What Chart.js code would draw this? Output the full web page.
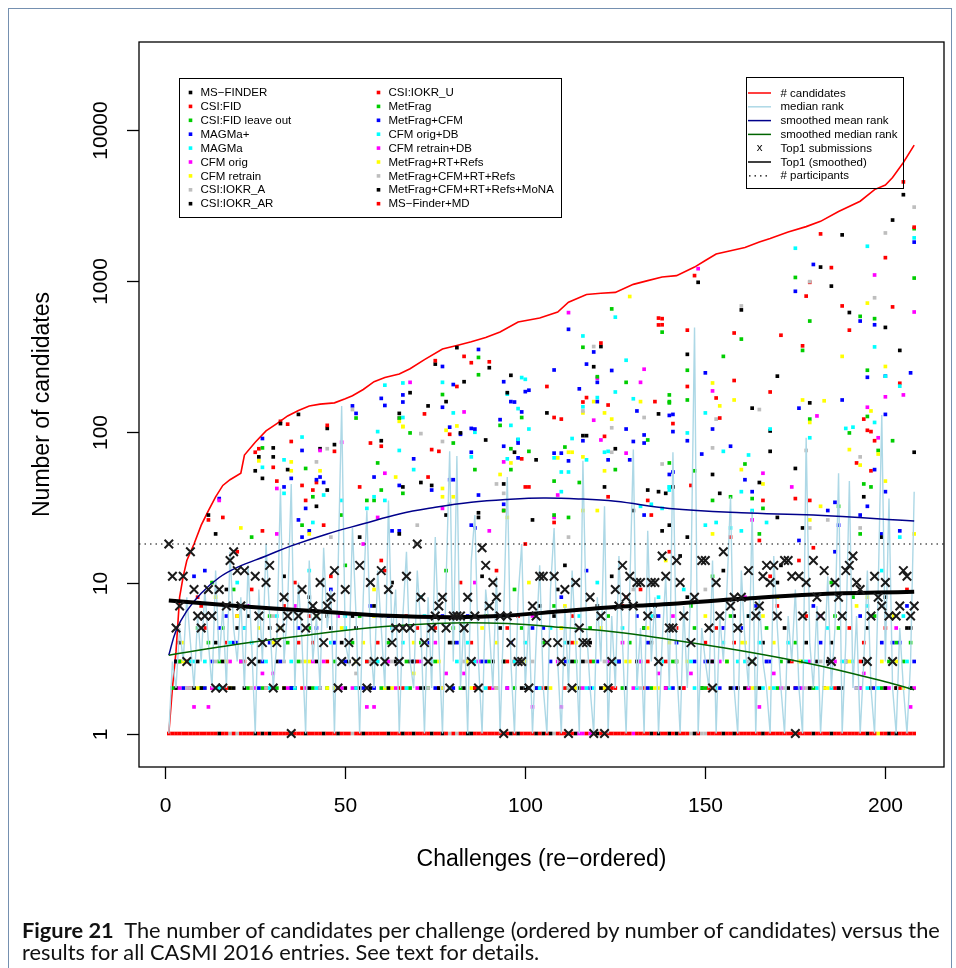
<!DOCTYPE html>
<html>
<head>
<meta charset="utf-8">
<script src="https://cdn.jsdelivr.net/npm/chart.js@4.4.1/dist/chart.umd.min.js"></script>
<style>
  body { margin: 0; background: #fff; }
  #wrap { position: relative; width: 956px; height: 968px; overflow: hidden; }
  #frame { position: absolute; left: 8px; top: 8px; width: 942px; height: 1000px; border: 1.5px solid #7590b0; }
  canvas { position: absolute; left: 0; top: 0; }
  .cap { position: absolute; left: 22px; font-family: Lato, "Open Sans", sans-serif;
         font-size: 20.5px; white-space: nowrap; transform-origin: 0 0; color: #111; }
</style>
</head>
<body>
<div id="wrap">
  <div id="frame"></div>
  <canvas id="chart" width="956" height="968"></canvas>
  <div class="cap" id="cap1" style="top:918px"><b>Figure 21</b>&nbsp; The number of candidates per challenge (ordered by number of candidates) versus the</div>
  <div class="cap" id="cap2" style="top:940px">results for all CASMI 2016 entries. See text for details.</div>
</div>
<script>
// axis ranges and ticks
const xMin = -7.28, xMax = 216.28;
const yMin = 0.624, yMax = 38100;
const xTicks = [0, 50, 100, 150, 200];
const yTicks = [1, 10, 100, 1000, 10000];
const participants = 18;

// number of candidates per challenge (red line), read at selected challenges
const candX = [1,2,3,4,5,6,8,10,12,14,16,18,21,22,25,28,31,34,37,40,43,47,50,52,55,58,61,65,68,72,77,81,85,89,93,98,104,109,112,117,121,125,130,134,138,142,147,150,153,157,161,165,168,173,178,182,187,193,197,200,202,205,208];
const candY = [1,2,3.5,8,11,14,18,24,30,37,44,48,53,70,85,101,113,127,138,148,152,155,165,173,190,214,228,241,261,300,352,372,394,420,457,532,565,620,719,810,825,836,945,1000,1058,1080,1230,1360,1500,1580,1660,1800,1900,2100,2280,2470,2870,3360,4010,4300,4820,6060,7900];

// median rank per challenge (light blue)
const medianRank = [1,3,2,5,3,8,4,2,6,3, 9,4,2,12,3,7,2,16,5,3, 8,2,13,4,1,9,3,18,6,2,
  4,42,3,7,45,2,10,4,1,14, 3,6,2,17,5,9,1,12,148,4, 3,23,6,1,8,30,4,2,12,5,
  2,35,4,9,1,6,16,3,2,12, 5,1,8,2,20,4,1,10,74,3, 69,2,6,1,14,28,3,1,9,5,
  2,11,1,6,50,3,1,8,18,2, 6,1,4,13,2,1,9,23,3,1, 7,2,12,4,1,64,5,2,1,8,
  3,32,1,6,2,15,4,1,9,76, 2,5,1,22,3,8,1,4,11,2, 73,3,1,7,2,10,490,1,5,3,
  2,14,1,6,3,9,37,2,1,12, 4,2,30,1,8,3,2,1,15,5, 2,1,6,3,9,2,1,91,4,2,
  7,1,3,11,2,5,53,1,4,47, 2,6,1,3,12,2,1,9,129,3, 36,2,1,5,2,1,3,40];

// smoothed curves, read at selected challenges
const meanX = [1,3,6,10,15,20,28,35,45,55,65,75,85,95,105,115,125,140,160,180,208];
const meanY = [3.3,4.8,6.5,8.5,10.8,12.6,15,17.5,21,24.5,28.5,31.5,34,35.5,36.3,35.8,34.5,31,29,28,25.6];
const medX = [1,20,40,60,80,95,110,125,140,155,170,185,200,208];
const medY = [3.3,3.9,4.5,5.1,5.4,5.35,5.05,4.7,4.2,3.7,3.2,2.7,2.2,1.95];
const top1SmX = [1,20,40,60,80,95,110,125,140,160,180,208];
const top1SmY = [7.6,7.0,6.5,6.05,5.9,6.05,6.45,6.9,7.2,7.8,8.35,8.7];

// Top1 submissions per challenge [challenge, count]
const top1Hits = [[1,18],[2,11],[3,5],[4,7],[5,11],[6,3],[7,16],[8,9],[9,6],[10,5],[11,6],[12,9],[13,6],[14,2],[15,9],[16,2],[17,7],[18,14],[19,16],[20,12],
  [21,7],[22,12],[24,3],[25,11],[26,6],[27,4],[28,10],[29,13],[30,2],[31,4],[32,5],[33,8],[34,6],[35,1],[37,6],[38,9],[39,5],[41,7],[42,6],[43,10],
  [44,4],[45,7],[46,8],[47,12],[48,2],[49,3],[50,9],[51,4],[53,3],[54,13],[56,2],[57,10],[58,3],[60,12],[61,3],[62,9],[63,4],[64,5],[65,3],[66,5],
  [67,11],[68,5],[70,18],[71,8],[72,4],[73,3],[74,5],[75,6],[76,7],[77,8],[78,5],[79,2],[80,6],[81,6],[82,6],[83,5],[84,8],[85,3],[86,6],[87,2],
  [88,17],[89,13],[90,7],[91,10],[92,8],[93,6],[94,1],[95,6],[96,4],[98,3],[99,3],[101,2],[102,7],[103,6],[104,11],[105,11],[106,4],[108,11],[109,4],[110,3],
  [111,9],[112,1],[113,2],[114,10],[115,5],[116,4],[117,4],[118,8],[119,1],[121,6],[122,1],[123,2],[124,3],[125,9],[126,7],[127,13],[128,8],[129,11],[130,7],[131,10],
  [132,10],[134,6],[135,10],[136,10],[137,3],[138,15],[139,11],[140,5],[141,5],[142,14],[143,10],[144,6],[146,4],[147,8],[149,14],[150,14],[151,5],[152,2],[153,10],[154,6],
  [155,16],[157,7],[158,8],[159,5],[160,8],[162,12],[163,3],[164,6],[165,7],[166,11],[167,13],[168,10],[169,13],[170,6],[172,14],[173,14],[174,11],[175,1],[176,11],[177,6],
  [178,10],[180,14],[181,8],[182,6],[183,12],[185,3],[186,10],[187,8],[188,6],[189,12],[190,13],[191,15],[192,10],[193,9],[195,3],[196,6],[197,11],[198,8],[199,7],[200,10],
  [201,6],[202,3],[203,6],[204,7],[205,12],[206,11],[207,6],[208,7]];

// rank of the correct candidate per entry [challenge, rank]
const msFinder = [[12,28],[26,68],[30,78],[37,130],[43,77],[60,87],[75,280],[81,360],[90,265],[96,236],[119,269],[121,366],[137,131],[148,975],[160,640],[170,233],[182,1230],[188,2010],[202,2520],[205,3710],[208,73],
  [3,2],[9,3],[14,4],[19,2],[23,6],[31,3],[36,2],[46,5],[51,3],[57,2],[68,3],[72,2],[84,3],[93,5],[99,2],[109,9],[115,2],[126,3],[136,6],[149,2],[161,2],[172,5],[184,3],[196,2],[206,5],[40,8],[63,10],[88,11],[143,15],[171,13],[155,12],[120,7],
  [27,4],[53,5],[80,4],[104,7],[133,5],[158,6],[178,4],[200,8],[45,6],[118,4]];
const csiFid = [[12,26],[16,27],[26,77],[30,58],[32,117],[35,86],[39,35],[42,46],[47,74],[57,84],[60,80],[75,295],[83,315],[72,131],[79,96],[100,43],[106,199],[117,168],[121,386],[137,565],[110,121],[123,37],[182,2040],[200,1420],[179,975],[188,680],[171,435],[145,470],[153,167],[194,121],[204,209],[165,19],
  [4,3],[7,2],[11,5],[17,2],[22,3],[28,2],[33,7],[38,2],[45,3],[53,2],[59,4],[65,2],[70,3],[76,2],[82,10],[90,2],[97,3],[103,2],[111,2],[118,3],[124,2],[133,2],[139,3],[151,2],[158,4],[164,2],[175,2],[186,2],[193,3],[203,2],[24,9],[61,12],[128,8],[176,14],
  [10,7],[41,4],[67,6],[95,5],[113,6],[142,5],[170,7],[190,5],[206,9],[85,4]];
const csiFidLeaveOut = [[27,78],[39,57],[41,37],[53,123],[59,62],[66,39],[58,35],[87,310],[80,84],[68,98],[99,124],[96,77],[124,650],[116,362],[138,456],[128,212],[111,79],[134,88],[140,158],[108,47],[208,2210],[175,1050],[179,540],[160,410],[145,255],[140,175],[147,55],[157,37],[190,98],[195,255],[198,75],[179,121],
  [4,3],[10,2],[16,5],[21,3],[27,2],[34,4],[41,2],[47,3],[54,6],[60,2],[67,3],[73,2],[80,5],[87,2],[94,3],[101,2],[108,7],[114,3],[122,2],[129,4],[135,2],[142,3],[150,2],[157,6],[163,3],[170,2],[177,3],[183,2],[191,8],[199,2],[205,3],[13,10],[50,13],[97,9],[152,11],
  [29,6],[62,4],[89,6],[118,5],[146,7],[167,5],[186,6],[203,4],[40,5]];
const magmaPlus = [[15,36],[11,12],[27,90],[33,43],[35,49],[38,75],[39,31],[42,48],[44,46],[52,148],[61,149],[60,166],[66,175],[65,44],[58,50],[63,22],[87,350],[77,270],[77,145],[80,205],[69,66],[74,41],[79,107],[82,96],[85,105],[85,73],[94,214],[96,158],[101,188],[93,120],
  [5,2],[13,3],[20,4],[26,2],[32,3],[37,5],[43,2],[49,3],[55,2],[62,6],[69,3],[75,2],[81,4],[89,3],[95,2],[102,5],[107,3],[113,2],[120,3],[128,2],[134,4],[141,2],[147,3],[154,2],[160,5],[168,3],[176,2],[182,4],[189,3],[197,2],[204,4],[8,11],[46,9],[117,12],[186,16],
  [17,6],[57,7],[84,6],[110,8],[137,6],[164,7],[193,6],[206,7],[29,4]];
const magma = [[33,65],[38,92],[27,58],[41,25],[44,38],[49,35],[59,100],[61,203],[66,210],[65,75],[77,212],[80,133],[66,124],[69,56],[86,99],[95,177],[99,228],[100,222],[98,142],[101,104],[116,430],[125,573],[128,297],[120,168],[130,165],[113,90],[140,43],
  [11,3],[8,3],[15,2],[24,4],[29,2],[35,3],[42,2],[50,5],[56,3],[61,2],[66,4],[74,3],[79,2],[86,3],[92,2],[100,4],[106,2],[112,3],[119,2],[127,5],[132,3],[140,2],[146,3],[153,2],[159,3],[166,2],[173,4],[181,2],[188,3],[195,2],[202,3],[207,2],[20,10],[71,8],[144,9],[199,12],
  [31,6],[63,5],[90,7],[115,6],[137,8],[162,6],[184,5],[205,6],[47,4]];
const cfmOrig = [[15,35],[31,42],[43,75],[49,85],[59,27],[65,123],[61,53],[68,212],[83,135],[77,31],[112,614],[133,259],[132,212],[120,226],[119,119],[121,88],[128,72],[94,63],[108,27],[197,1090],[208,620],[148,1200],[152,186],[195,145],[198,91],[200,170],[205,175],[181,127],[166,53],[174,43],
  [6,2],[12,1.5],[18,3],[25,2],[30,2.5],[39,2],[44,3],[52,2],[58,1.5],[64,2],[71,3],[77,2],[83,2.5],[91,2],[98,3],[104,2],[110,1.5],[116,2],[123,3],[130,2],[137,2.5],[144,2],[152,3],[159,2],[165,1.5],[171,2],[179,3],[187,2],[194,2.5],[200,2],[207,1.5],[36,7],[86,10],[161,8],
  [22,5],[48,6],[75,4],[102,6],[127,4],[155,5],[182,6],[203,5]];
const cfmRetrain = [[21,23],[26,64],[35,63],[35,55],[43,55],[65,117],[66,108],[64,50],[81,109],[78,102],[77,42],[80,37],[96,62],[93,52],[129,785],[119,158],[116,133],[122,133],[124,121],[132,158],[112,73],[109,67],[195,710],[188,315],[152,210],[154,148],[158,162],[177,162],[183,160],[190,76],[196,137],[200,270],[208,21],
  [5,3],[11,2],[18,2],[26,5],[33,2],[40,3],[47,2],[55,4],[63,2],[69,2.5],[76,3],[85,2],[92,4],[99,3],[107,2],[114,2],[121,5],[128,3],[136,2],[143,2],[150,6],[156,3],[163,2],[169,4],[176,3],[184,2],[192,7],[199,3],[205,2],[14,8],[101,10],[139,14],
  [30,4],[58,6],[88,5],[111,7],[134,5],[160,4],[187,5],[202,6]];
const csiIokrA = [[45,77],[42,63],[52,140],[71,97],[77,86],[79,33],[92,45],[94,39],[119,366],[133,124],[124,106],[116,137],[124,73],[138,61],[208,3070],[200,2070],[179,985],[197,770],[160,680],[165,140],[153,121],[152,78],[178,75],[193,68],[193,23],[184,26],
  [7,2],[17,3],[28,2],[38,3],[48,2],[57,3],[67,2],[88,3],[97,2],[117,3],[127,2],[138,3],[157,2],[167,3],[178,2],[189,3],[198,2],[18,1],[20,1],[52,1],[79,1],[81,1],[108,1],[146,1],[149,1],[150,1],[60,6],[130,9]];
const csiIokrAR = [[14,21],[25,55],[27,49],[30,68],[34,56],[42,32],[45,105],[47,82],[45,41],[65,132],[73,148],[68,181],[74,44],[71,46],[89,88],[87,29],[95,181],[97,73],[103,65],[94,45],[116,94],[117,94],[125,77],[122,43],[134,41],[106,133],[185,920],[190,615],[200,490],[204,345],[145,325],[163,143],[168,101],[175,57],[179,155],
  [4,4],[10,2],[16,3],[22,2],[29,5],[35,2],[42,3],[50,2],[58,7],[64,3],[71,2],[79,4],[86,2],[94,3],[101,2],[108,6],[116,3],[123,2],[131,3],[139,2],[145,8],[152,3],[159,2],[166,4],[173,2],[181,3],[188,2],[195,5],[203,2],[33,11],[111,13],[170,10],
  [20,5],[52,6],[83,5],[112,4],[136,7],[162,6],[185,4],[207,5]];
const csiIokrARRank1 = [15,25,27,29,35,39,44,48,55,62,66,69,74,77,84,85,96,98,103,105,107,112,114,120,135,137,140,142,147,155,158,166,180,185,195,201,203];
const csiIokrU = [[25,73],[27,22],[31,47],[34,112],[38,44],[41,41],[45,110],[54,43],[44,24],[85,286],[90,290],[81,199],[74,76],[76,74],[73,50],[101,43],[94,30],[116,157],[123,150],[137,509],[108,124],[122,93],[99,66],[134,35],[135,28],[108,25],[136,158],[205,4510],[208,2260],[185,1220],[178,790],[202,670],[190,470],[177,370],[158,450],[147,1080],[138,560],[138,510],[145,199],[158,218],[168,183],[141,113],[154,123],[192,62],[195,102],[196,100],[197,87],[196,55],[166,35],[175,36],[157,20],[179,35],[146,44],
  [6,3],[13,2],[20,6],[30,2],[37,4],[48,2],[56,3],[66,2],[75,5],[86,2],[95,3],[105,2],[113,4],[125,2],[134,3],[144,2],[153,5],[162,2],[174,3],[183,2],[194,4],[204,2],[9,8],[46,11],[132,9],
  [17,4],[40,6],[70,5],[98,6],[127,7],[150,4],[178,6],[200,5]];
const metFrag = [[24,20],[65,123],[60,41],[56,35],[49,28],[38,24],[77,176],[87,238],[86,56],[93,110],[101,74],[96,56],[120,231],[125,56],[140,62],[115,46],[94,30],[108,28],[112,27],[208,1040],[193,580],[197,560],[177,345],[155,315],[145,162],[140,155],[161,61],[152,35],[163,36],[166,31],[195,126],[194,45],[196,43],[202,87],[193,21],[187,32],[165,21],
  [2,2],[9,5],[15,3],[23,2],[31,2],[37,3],[45,2],[52,4],[61,3],[68,2],[75,3],[82,2],[90,3],[97,2],[105,4],[112,2],[119,3],[127,2],[133,5],[141,3],[149,2],[156,3],[164,2],[171,3],[180,2],[187,5],[193,2],[201,3],[207,4],[19,9],[78,12],[185,10],
  [12,4],[42,6],[71,4],[99,5],[123,6],[147,5],[175,4],[197,6]];
const metFragCfm = [[37,26],[43,50],[53,132],[66,157],[38,20],[40,22],[65,22],[79,48],[80,48],[86,104],[86,23],[85,24],[87,38],[97,157],[100,184],[99,135],[94,80],[98,84],[98,88],[98,67],[94,33],[108,256],[112,476],[119,337],[117,280],[115,192],[120,158],[120,212],[124,254],[131,137],[116,87],[112,64],[110,72],[108,72],[123,65],[129,65],[130,86],[133,84],[133,95],[128,104],[140,52],[140,128],[133,28],
  [208,1800],[180,1280],[175,850],[193,540],[197,510],[195,229],[150,245],[176,143],[188,162],[149,71],[157,80],[161,48],[145,87],[152,104],[200,233],[207,245],[200,40],[200,130],[195,32],[197,56],[176,19],[184,30],[187,24],[186,34],[193,28],[199,21],[204,22],[163,40],[141,54],[141,100],[141,130],
  [3,3],[11,2],[19,4],[27,3],[35,2],[42,5],[50,3],[58,2],[65,3],[73,4],[80,2],[88,3],[96,4],[103,2],[111,3],[118,2],[126,3],[134,2],[142,4],[150,3],[158,2],[167,3],[175,2],[185,3],[192,2],[202,4],[208,3],
  [15,5],[47,4],[77,6],[105,5],[131,6],[155,5],[180,7],[199,4],[23,7]];
const cfmOrigDb = [[98,89],[95,66],[96,110],[125,183],[116,146],[108,67],[117,65],[122,73],[123,74],[140,41],[110,54],[112,54],[110,40],[132,32],[135,33],[208,1920],[195,1690],[175,1640],[197,364],[200,233],[204,200],[150,133],[155,74],[162,70],[160,40],[145,98],[168,104],[179,91],[189,105],[191,107],[197,115],[204,20],[167,25],[163,30],[160,22],[157,23],[153,25],[150,24],[140,43],[138,31],[33,39],[56,31],[58,37],[61,35],[85,68],
  [7,3],[14,2],[22,5],[28,3],[36,2],[46,4],[53,2],[59,3],[67,2],[72,6],[81,3],[89,2],[97,3],[104,2],[111,4],[117,2],[125,3],[131,2],[138,3],[147,2],[155,4],[161,3],[169,2],[178,3],[185,2],[191,3],[198,2],[206,3],[40,12],[120,10],
  [18,4],[50,6],[84,4],[107,5],[135,6],[165,4],[195,7]];
const cfmRetrainDb = [[31,21],[163,26],[109,38],[55,18],[90,22],
  [4,2],[8,1.5],[13,2],[21,3],[27,2.5],[34,2],[41,3],[49,2],[56,1.5],[62,3],[70,2],[78,2.5],[87,3],[95,2],[102,1.5],[109,3],[122,2],[132,3],[139,2],[146,2.5],[154,3],[162,2],[169,2.5],[177,2],[186,3],[193,2],[201,2],[208,2],[115,1],[116,1],[118,1],[130,1],[23,7],[141,6]];
const metFragRtRefs = [[40,21],[66,108],[77,37],[116,30],[120,30],[95,27],[113,73],[116,68],[122,55],[179,115],[193,60],[198,71],[200,47],[166,45],[182,32],[179,26],[160,56],[152,21],
  [5,4],[9,2],[17,3],[24,2],[32,5],[39,3],[45,2],[53,3],[61,2],[69,4],[77,2],[84,3],[92,2],[100,3],[106,2],[114,4],[122,2],[129,3],[137,2],[145,3],[152,2],[161,4],[168,2],[176,3],[183,2],[190,3],[203,3],[198,1],[58,9],[170,8],
  [20,6],[49,5],[81,6],[110,5],[140,4],[166,6],[195,8]];
const metFragCfmRtRefs = [[179,23],[46,20],[112,20],[70,24],
  [6,2],[14,3],[24,2],[33,3],[43,2],[53,2.5],[63,3],[73,2],[83,3],[92,2],[102,3],[112,2],[122,3],[132,2],[142,3],[152,2],[162,3],[172,2],[182,3],[192,2],[202,3],[30,6],[150,9]];
const metFragCfmRtRefsMona = [[78,158],[83,214],[82,98],[78,28],[87,27],[102,26],[137,40],[138,22],[130,30],[152,52],[154,39],[165,46],[170,27],[177,23],[141,43],[139,39],[140,24],[145,20],[199,20],[194,37],[168,74],[54,20],[65,21],[66,43],[32,113],
  [3,3],[8,2],[18,2],[26,3],[33,2],[40,2],[49,4],[54,2],[62,2],[69,3],[76,2],[83,2],[91,3],[100,2],[106,2],[113,3],[121,2],[128,2],[135,4],[143,2],[151,3],[157,2],[165,2],[173,3],[179,2],[187,2],[194,3],[200,2],[207,2],[17,9],[124,11]];
const msFinderMd = [[20,16],[60,14],[100,18],[140,16],[180,17],[36,10],[92,12],[168,11]];
const msFinderMdRank1 = [1,2,3,4,5,6,7,8,9,10,11,12,13,14,16,17,19,21,22,23,24,26,28,30,31,32,33,34,36,37,38,40,41,42,43,45,46,47,49,50,51,53,54,56,57,58,59,60,61,63,64,65,67,68,70,71,72,73,75,76,78,80,82,83,86,87,88,89,90,91,92,93,94,95,97,99,100,101,102,104,106,109,110,111,113,117,119,121,122,123,124,125,126,127,128,129,131,132,133,134,136,138,139,141,143,144,145,148,151,152,153,154,156,157,159,160,161,162,163,164,165,167,168,169,170,171,172,173,174,175,176,177,178,179,181,182,183,184,186,187,188,189,190,191,192,193,194,196,197,199,200,202,204,205,206,207,208];

const methodNames = ['MS\u2212FINDER','CSI:FID','CSI:FID leave out','MAGMa+','MAGMa','CFM orig','CFM retrain','CSI:IOKR_A','CSI:IOKR_AR',
  'CSI:IOKR_U','MetFrag','MetFrag+CFM','CFM orig+DB','CFM retrain+DB','MetFrag+RT+Refs','MetFrag+CFM+RT+Refs','MetFrag+CFM+RT+Refs+MoNA','MS\u2212Finder+MD'];
const palette = ['#000000','#FF0000','#00CD00','#0000FF','#00FFFF','#FF00FF','#FFFF00','#BEBEBE'];

const methodData = [msFinder, csiFid, csiFidLeaveOut, magmaPlus, magma, cfmOrig, cfmRetrain, csiIokrA,
  csiIokrAR.concat(csiIokrARRank1.map(x => [x, 1])), csiIokrU, metFrag, metFragCfm, cfmOrigDb, cfmRetrainDb,
  metFragRtRefs, metFragCfmRtRefs, metFragCfmRtRefsMona, msFinderMd.concat(msFinderMdRank1.map(x => [x, 1]))];

const pairs = (xs, ys) => xs.map((x, i) => ({x: x, y: ys[i]}));

// datasets: lower "order" is drawn on top
let datasets = [];
datasets.push({ label: '# candidates', data: pairs(candX, candY), showLine: true, borderColor: '#FF0000',
  borderWidth: 1.6, pointRadius: 0, order: 40 });
methodData.forEach((arr, i) => {
  datasets.push({ label: methodNames[i], data: arr.map(p => ({x: p[0], y: p[1]})),
    pointStyle: 'rect', pointRadius: 2.6, borderWidth: 0,
    backgroundColor: palette[i % 8], borderColor: palette[i % 8], order: 30 - i });
});
datasets.push({ label: 'median rank', data: medianRank.map((v, i) => ({x: i + 1, y: v})), showLine: true,
  borderColor: '#ADD8E6', borderWidth: 1.4, pointRadius: 0, order: 5 });
datasets.push({ label: '# participants', data: [{x: xMin, y: participants}, {x: xMax, y: participants}], showLine: true,
  borderColor: '#000', borderWidth: 1.1, borderDash: [1.5, 4], pointRadius: 0, order: 4 });
datasets.push({ label: 'smoothed mean rank', data: pairs(meanX, meanY), showLine: true, tension: 0.4,
  borderColor: '#00008B', borderWidth: 1.5, pointRadius: 0, order: 3 });
datasets.push({ label: 'smoothed median rank', data: pairs(medX, medY), showLine: true, tension: 0.4,
  borderColor: '#006400', borderWidth: 1.5, pointRadius: 0, order: 2 });
datasets.push({ label: 'Top1 (smoothed)', data: pairs(top1SmX, top1SmY), showLine: true, tension: 0.4,
  borderColor: '#000', borderWidth: 4, pointRadius: 0, order: 1 });
datasets.push({ label: 'Top1 submissions', data: top1Hits.map(p => ({x: p[0], y: p[1]})),
  pointStyle: 'crossRot', pointRadius: 6, borderWidth: 2, borderColor: '#1a1a1a', backgroundColor: '#1a1a1a', order: 0 });

const axisFont = '"Liberation Sans", Arial, Helvetica, sans-serif';

// R-style box, axes, titles and legends
const rFrame = {
  id: 'rFrame',
  afterDraw(chart) {
    const ctx = chart.ctx, a = chart.chartArea;
    const xs = chart.scales.x, ys = chart.scales.y;
    ctx.save();
    ctx.strokeStyle = '#000';
    ctx.lineWidth = 1.3;
    ctx.strokeRect(a.left, a.top, a.right - a.left, a.bottom - a.top);
    ctx.fillStyle = '#000';
    ctx.font = '21px ' + axisFont;
    ctx.textAlign = 'center';
    ctx.textBaseline = 'middle';
    xTicks.forEach(t => {
      const px = Math.round(xs.getPixelForValue(t)) + 0.5;
      ctx.beginPath(); ctx.moveTo(px, a.bottom); ctx.lineTo(px, a.bottom + 12); ctx.stroke();
      ctx.fillText(String(t), px, 806);
    });
    yTicks.forEach(t => {
      const py = Math.round(ys.getPixelForValue(t)) + 0.5;
      ctx.beginPath(); ctx.moveTo(a.left, py); ctx.lineTo(a.left - 12, py); ctx.stroke();
      ctx.save(); ctx.translate(101, py); ctx.rotate(-Math.PI / 2);
      ctx.fillText(String(t), 0, 0); ctx.restore();
    });
    ctx.font = '23px ' + axisFont;
    ctx.fillText('Challenges (re\u2212ordered)', (a.left + a.right) / 2, 860);
    ctx.save(); ctx.translate(43, (a.top + a.bottom) / 2); ctx.rotate(-Math.PI / 2);
    ctx.fillText('Number of candidates', 0, 0); ctx.restore();

    // legend 1: entries
    ctx.lineWidth = 1;
    ctx.strokeRect(179.5, 78.5, 382, 139);
    ctx.font = '11.5px ' + axisFont;
    ctx.textAlign = 'left';
    methodNames.forEach((name, i) => {
      const col = i < 9 ? 0 : 1, row = i % 9;
      const sx = col ? 378.5 : 190.5, tx = col ? 388.5 : 200.5, y = 92.5 + row * 13.9;
      ctx.fillStyle = palette[i % 8];
      ctx.fillRect(sx - 1.8, y - 1.8, 3.6, 3.6);
      ctx.fillStyle = '#000';
      ctx.fillText(name, tx, y + 0.5);
    });

    // legend 2: lines
    ctx.strokeRect(746.5, 77.5, 157, 111);
    const items = [
      ['# candidates', 'line', '#FF0000', 1.5], ['median rank', 'line', '#ADD8E6', 1.5],
      ['smoothed mean rank', 'line', '#00008B', 1.5], ['smoothed median rank', 'line', '#006400', 1.5],
      ['Top1 submissions', 'x', '#000', 1], ['Top1 (smoothed)', 'line', '#000', 1.5], ['# participants', 'dot', '#000', 1.2]];
    items.forEach((it, i) => {
      const y = 93 + i * 13.8;
      ctx.strokeStyle = it[2]; ctx.fillStyle = it[2]; ctx.lineWidth = it[3];
      if (it[1] === 'line') {
        ctx.beginPath(); ctx.moveTo(748, y); ctx.lineTo(771, y); ctx.stroke();
      } else if (it[1] === 'dot') {
        ctx.setLineDash([1.5, 4]);
        ctx.beginPath(); ctx.moveTo(749, y); ctx.lineTo(771, y); ctx.stroke();
        ctx.setLineDash([]);
      } else {
        ctx.textAlign = 'center'; ctx.fillText('x', 759.5, y); ctx.textAlign = 'left';
      }
      ctx.fillStyle = '#000';
      ctx.fillText(it[0], 780.5, y + 0.5);
    });
    ctx.restore();
  }
};

new Chart(document.getElementById('chart').getContext('2d'), {
  type: 'scatter',
  data: { datasets: datasets },
  options: {
    responsive: false,
    animation: false,
    devicePixelRatio: 1,
    layout: { padding: { left: 139, top: 42, right: 956 - 944, bottom: 968 - 767 } },
    scales: {
      x: { type: 'linear', min: xMin, max: xMax, display: false },
      y: { type: 'logarithmic', min: yMin, max: yMax, display: false }
    },
    plugins: { legend: { display: false }, tooltip: { enabled: false } },
    elements: { line: { fill: false } }
  },
  plugins: [rFrame]
});

// caption: fit first line to the frame width
const c1 = document.getElementById('cap1'), c2 = document.getElementById('cap2');
const k = 918 / c1.offsetWidth;
c1.style.transform = 'scaleX(' + k + ')';
c2.style.transform = 'scaleX(' + k + ')';
</script>
</body>
</html>
